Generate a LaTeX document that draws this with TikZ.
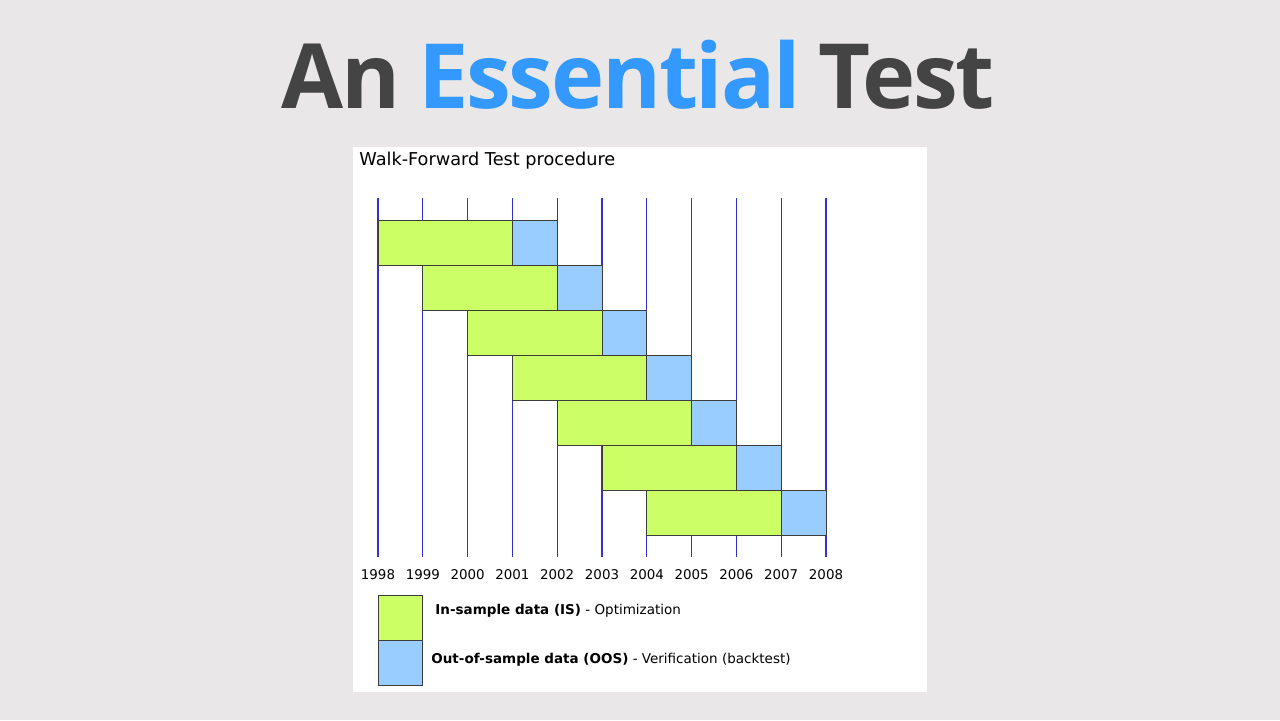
\documentclass[tikz,border=0pt]{standalone}
\usepackage{fontspec}
\usepackage{tikz}
\setmainfont{DejaVu Sans}
\newfontfamily\titlefont{Open Sans}[LetterSpace=-2.5]
\definecolor{bg}{RGB}{233, 231, 232}
\definecolor{ink}{RGB}{68, 68, 68}
\definecolor{sky}{RGB}{51, 153, 255}
\definecolor{insample}{RGB}{204, 255, 102}
\definecolor{outsample}{RGB}{153, 204, 255}
\definecolor{grid}{RGB}{51, 51, 204}
\definecolor{edge}{RGB}{60, 60, 60}

\begin{document}
\begin{tikzpicture}[x=0.5pt, y=0.5pt,
    bar/.style={draw=edge, line width=0.5pt},
    year/.style={font=\fontsize{6.7}{8}\selectfont, inner sep=0pt},
    legtext/.style={font=\fontsize{6.75}{8}\selectfont, anchor=west, inner sep=0pt}]
  \fill[bg] (0, 0) rectangle (1280, 720);
  \useasboundingbox (0, 0) rectangle (1280, 720);
  \fill[white] (353, 28) rectangle (927, 573);

  \node[font=\titlefont\bfseries\fontsize{45}{50}\selectfont, text=ink, inner sep=0pt] (title) at (638, 645)
    {An\hspace{0.2em}\textcolor{sky}{Essential}\hspace{0.2em}Test};
  \node[font=\fontsize{8.85}{10}\selectfont, anchor=west, inner sep=0pt] (head) at (359, 559) {Walk-Forward Test procedure};

  % year grid
  \foreach \k/\yr in {0/1998, 1/1999, 2/2000, 3/2001, 4/2002, 5/2003, 6/2004, 7/2005, 8/2006, 9/2007, 10/2008} {
    \draw[grid, line width=0.6pt] ({378 + 44.8*\k}, 522) -- ({378 + 44.8*\k}, 163);
    \node[year] (y\yr) at ({378 + 44.8*\k}, 145) {\yr};
  }

  % walk-forward windows
  \foreach \r in {0, ..., 6} {
    \filldraw[bar, fill=insample] ({378 + 44.8*\r}, {500 - 45*\r}) rectangle ({378 + 44.8*(\r + 3)}, {455 - 45*\r});
    \filldraw[bar, fill=outsample] ({378 + 44.8*(\r + 3)}, {500 - 45*\r}) rectangle ({378 + 44.8*(\r + 4)}, {455 - 45*\r});
  }

  % legend
  \filldraw[bar, fill=insample] (378, 125) rectangle (422, 80);
  \filldraw[bar, fill=outsample] (378, 80) rectangle (422, 35);
  \node[legtext] (lis) at (435, 109) {\textbf{In-sample data (IS)} - Optimization};
  \node[legtext] (loos) at (431, 60) {\textbf{Out-of-sample data (OOS)} - Verification (backtest)};
\end{tikzpicture}
\end{document}
